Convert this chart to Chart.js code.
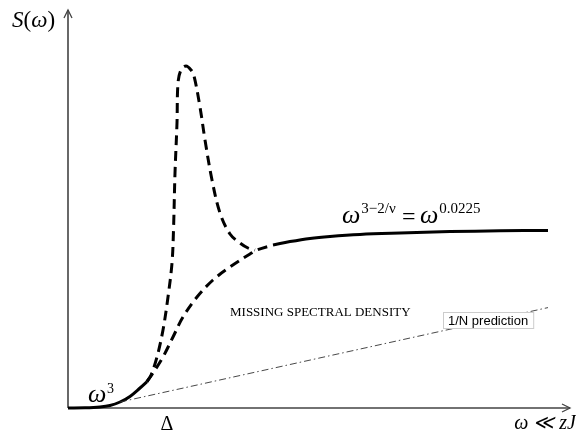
<!DOCTYPE html>
<html>
<head>
<meta charset="utf-8">
<script src="https://cdn.jsdelivr.net/npm/chart.js@4"></script>
<style>
html,body{margin:0;padding:0;background:#fff;}
#wrap{width:576px;height:435px;}
</style>
</head>
<body>
<div id="wrap"><canvas id="c" width="576" height="435"></canvas></div>
<script>
// ---- data (x: frequency, y: spectral density, arbitrary units) ----
const rampX    = [0, 3.4, 6.4, 8.4, 10.4, 12.4, 14.4, 15.8];
const rampY    = [0, 0.05, 0.25, 0.62, 1.5, 2.9, 5, 6.6];
const peakX    = [15.8, 16.6, 17.8, 19, 20, 20.8, 21.1, 21.4, 21.8, 22, 22.6, 23.6, 24.6, 25.2, 26.4, 27.4, 28.8, 30.4, 32.4, 34.4, 36, 37.4];
const peakY    = [6.6, 8.2, 12.75, 19.5, 27.75, 36.25, 44.5, 58.75, 71.25, 81.25, 84.5, 85.5, 84.5, 83, 75.25, 67, 57, 48.75, 43.5, 41.25, 40, 39.5];
const lowerX   = [15.8, 17, 19, 21, 23, 25.8, 29, 32.4, 36.4, 37.8, 41];
const lowerY   = [6.6, 8.75, 12.75, 17.75, 22.75, 27.75, 32, 35.25, 38.5, 39.5, 40.75];
const plateauX = [41, 44.4, 48.4, 52.4, 58.4, 66.4, 76.4, 86.4, 96];
const plateauY = [40.75, 41.6, 42.4, 42.9, 43.4, 43.75, 44.1, 44.3, 44.4];
const nPredX   = [10.4, 96];
const nPredY   = [1.5, 25.1];
const axisEndX = 100.4;
const axisEndY = 99.5;
const yLabel   = ["S", "(", "ω", ")"];
const xLabel   = "ω ≪ zJ";
const deltaLabel = "Δ";
const missingLabel = "MISSING SPECTRAL DENSITY";
const predLabel = "1/N prediction";
const plateauBase = "ω", plateauExp1 = "3−2/ν", plateauEq = "=", plateauExp2 = "0.0225";
const rampExp = "3";

const pts = (xs, ys) => xs.map((x, i) => ({x: x, y: ys[i]}));

const overlay = {
  id: 'overlay',
  beforeDatasetsDraw(chart) {
    const ctx = chart.ctx, sx = chart.scales.x, sy = chart.scales.y;
    const x0 = sx.getPixelForValue(0), y0 = sy.getPixelForValue(0);
    const xe = sx.getPixelForValue(axisEndX), ye = sy.getPixelForValue(axisEndY);
    ctx.save();
    ctx.strokeStyle = '#444';
    ctx.lineWidth = 1.6;
    ctx.beginPath();
    ctx.moveTo(x0, y0); ctx.lineTo(xe, y0);
    ctx.moveTo(x0, y0); ctx.lineTo(x0, ye);
    ctx.stroke();
    ctx.lineWidth = 1.3;
    ctx.beginPath();
    ctx.moveTo(xe - 8, y0 - 4); ctx.lineTo(xe, y0); ctx.lineTo(xe - 8, y0 + 4);
    ctx.moveTo(x0 - 4, ye + 8); ctx.lineTo(x0, ye); ctx.lineTo(x0 + 4, ye + 8);
    ctx.stroke();
    ctx.restore();
  },
  afterDatasetsDraw(chart) {
    const ctx = chart.ctx;
    ctx.save();
    ctx.fillStyle = '#000';
    ctx.textBaseline = 'alphabetic';
    ctx.textAlign = 'left';
    const serif = '"Liberation Serif", "Times New Roman", serif';
    // y label S(ω)
    let px = 12;
    const parts = [["italic 23px " + serif, yLabel[0]], ["23px " + serif, yLabel[1]], ["italic 23px " + serif, yLabel[2]], ["23px " + serif, yLabel[3]]];
    parts.forEach(p => { ctx.font = p[0]; ctx.fillText(p[1], px, 27); px += ctx.measureText(p[1]).width; });
    // x label
    ctx.font = "italic 20px " + serif;
    ctx.textAlign = 'right';
    ctx.fillText(xLabel, 576, 429);
    // Delta
    ctx.textAlign = 'center';
    ctx.font = "20px " + serif;
    ctx.fillText(deltaLabel, 167, 430);
    // ramp omega^3
    ctx.textAlign = 'left';
    ctx.font = "italic 26px " + serif;
    ctx.fillText(plateauBase, 88, 402);
    ctx.font = "14px " + serif;
    ctx.fillText(rampExp, 107, 393);
    // plateau formula
    ctx.font = "italic 26px " + serif;
    ctx.fillText(plateauBase, 342, 223);
    let w = ctx.measureText(plateauBase).width;
    ctx.font = "15px " + serif;
    ctx.fillText(plateauExp1, 342 + w + 1, 213);
    ctx.font = "24px " + serif;
    ctx.fillText(plateauEq, 402, 224);
    ctx.font = "italic 26px " + serif;
    ctx.fillText(plateauBase, 420, 223);
    ctx.font = "15px " + serif;
    ctx.fillText(plateauExp2, 420 + w + 1, 213);
    // missing spectral density
    ctx.font = "13px " + serif;
    ctx.fillText(missingLabel, 230, 316);
    // 1/N prediction box
    ctx.font = '13px "Liberation Sans", Arial, sans-serif';
    const tw = ctx.measureText(predLabel).width;
    ctx.fillStyle = '#fff';
    ctx.fillRect(443, 312, tw + 10, 16);
    ctx.strokeStyle = '#ccc';
    ctx.lineWidth = 1;
    ctx.strokeRect(443.5, 312.5, tw + 10, 16);
    ctx.fillStyle = '#000';
    ctx.fillText(predLabel, 448, 325);
    ctx.restore();
  }
};

new Chart(document.getElementById('c'), {
  type: 'scatter',
  data: {
    datasets: [
      {data: pts(nPredX, nPredY), borderColor: '#333', borderWidth: 0.9, borderDash: [7, 3, 1.5, 3], tension: 0},
      {data: pts(peakX, peakY), borderColor: '#000', borderWidth: 3, borderDash: [10, 6], tension: 0.35},
      {data: pts(lowerX, lowerY), borderColor: '#000', borderWidth: 3, borderDash: [10, 6], tension: 0.35},
      {data: pts(rampX, rampY), borderColor: '#000', borderWidth: 3, tension: 0.35},
      {data: pts(plateauX, plateauY), borderColor: '#000', borderWidth: 3, tension: 0.35}
    ].map(d => Object.assign({showLine: true, pointRadius: 0, pointHoverRadius: 0, fill: false, clip: false}, d))
  },
  options: {
    responsive: false,
    animation: false,
    events: [],
    layout: {padding: {left: 68, right: 8, top: 8, bottom: 27}},
    plugins: {legend: {display: false}, tooltip: {enabled: false}},
    scales: {
      x: {type: 'linear', display: false, min: 0, max: 100},
      y: {type: 'linear', display: false, min: 0, max: 100}
    }
  },
  plugins: [overlay]
});
</script>
</body>
</html>
